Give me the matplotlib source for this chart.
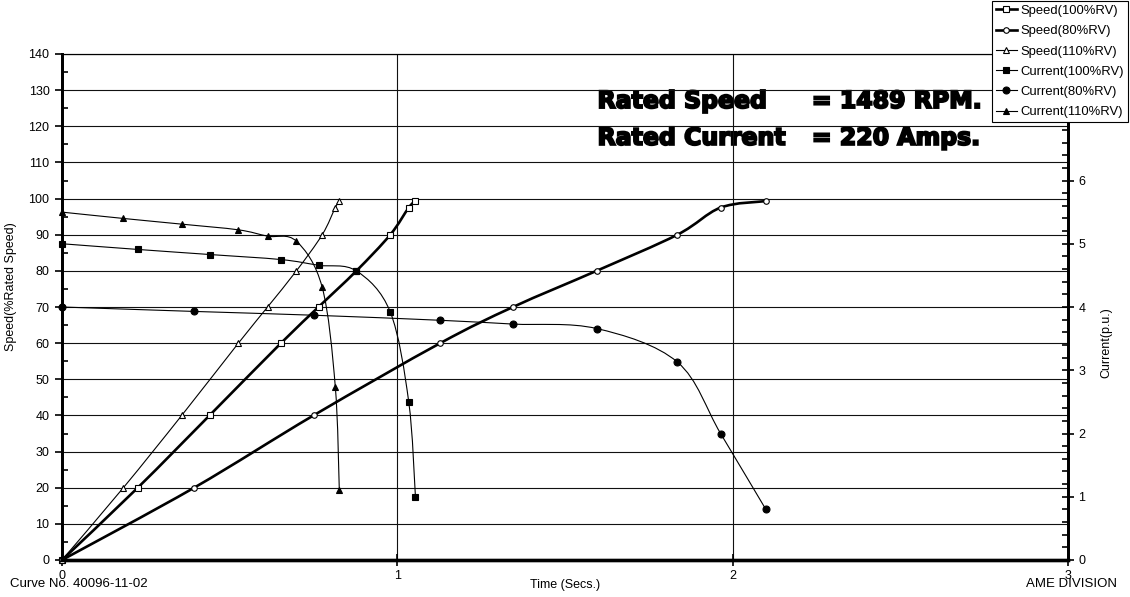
import matplotlib
matplotlib.use('Agg')
import matplotlib.pyplot as plt
import matplotlib.patheffects as pe
from matplotlib.path import Path
from matplotlib.patches import PathPatch
from matplotlib.lines import Line2D
from matplotlib.ticker import MultipleLocator
import numpy as np

plt.rcParams['font.family'] = ['Liberation Sans', 'DejaVu Sans']

# time (s) of each sample for the three voltage cases
time_100 = [0, 0.226, 0.440, 0.653, 0.765, 0.878, 0.979, 1.034, 1.054]
time_80 = [0, 0.394, 0.750, 1.128, 1.345, 1.594, 1.835, 1.964, 2.099]
time_110 = [0, 0.183, 0.357, 0.526, 0.613, 0.699, 0.776, 0.815, 0.827]

# speed in % of rated speed
speed_100 = [0, 20, 40, 60, 70, 80, 90, 97.5, 99.3]
speed_80 = [0, 20, 40, 60, 70, 80, 90, 97.5, 99.3]
speed_110 = [0, 20, 40, 60, 70, 80, 90, 97.5, 99.3]

# current in p.u.
current_100 = [5.00, 4.91, 4.83, 4.75, 4.66, 4.57, 3.92, 2.50, 1.00]
current_80 = [4.00, 3.93, 3.87, 3.79, 3.73, 3.66, 3.13, 2.00, 0.80]
current_110 = [5.50, 5.40, 5.31, 5.22, 5.12, 5.04, 4.31, 2.74, 1.10]

x_ticks = [0, 1, 2, 3]
speed_ticks = list(range(0, 141, 10))
current_ticks = list(range(0, 9))
# 7 and 8 sit under the legend box
current_labels = ['0', '1', '2', '3', '4', '5', '6', '', '']


def smooth_path(x, y):
    # excel style smoothed line: catmull-rom segments as cubic beziers
    pts = np.column_stack([x, y]).astype(float)
    n = len(pts)
    verts = [pts[0]]
    codes = [Path.MOVETO]
    for i in range(n - 1):
        p0 = pts[max(i - 1, 0)]
        p1 = pts[i]
        p2 = pts[i + 1]
        p3 = pts[min(i + 2, n - 1)]
        verts += [p1 + (p2 - p0) / 6, p2 - (p3 - p1) / 6, p2]
        codes += [Path.CURVE4] * 3
    return Path(verts, codes)


def draw_series(ax, x, y, lw, marker, ms, filled):
    ax.add_patch(PathPatch(smooth_path(x, y), fill=False, edgecolor='black',
                           lw=lw, zorder=2, capstyle='round', joinstyle='round'))
    ax.plot(x, y, ls='none', marker=marker, ms=ms, mec='black',
            mfc='black' if filled else 'white', mew=0.8, zorder=3, clip_on=False)


fig = plt.figure(figsize=(11.3, 5.97), dpi=100)
ax = fig.add_axes([62 / 1130, 37 / 597, 1006 / 1130, 506 / 597])
ax2 = ax.twinx()

ax.set_xlim(0, 3)
ax.set_ylim(0, 140)
ax2.set_ylim(0, 8)

ax.set_axisbelow(True)
ax.set_xticks(x_ticks)
ax.set_yticks(speed_ticks)
ax.yaxis.set_minor_locator(MultipleLocator(5))
ax2.set_yticks(current_ticks, current_labels)
ax2.yaxis.set_minor_locator(MultipleLocator(0.2))
ax.grid(True, which='major', color='#111111', lw=0.8)

for s in ['left', 'right']:
    ax.spines[s].set_linewidth(2)
    ax2.spines[s].set_linewidth(2)
ax.spines['bottom'].set_linewidth(2.4)
ax2.spines['bottom'].set_linewidth(2.4)
ax.spines['top'].set_linewidth(0.8)
ax2.spines['top'].set_linewidth(0.8)

ax.tick_params(axis='y', which='major', direction='out', length=5, width=1.2, pad=4, labelsize=9)
ax.tick_params(axis='y', which='minor', direction='in', length=4, width=1.2)
ax.tick_params(axis='x', which='major', direction='inout', length=8, width=1.2, pad=3, labelsize=9)
ax2.tick_params(axis='y', which='major', direction='inout', length=9, width=1.2, pad=3, labelsize=9)
ax2.tick_params(axis='y', which='minor', direction='in', length=4, width=1.2)

ax.set_ylabel('Speed(%Rated Speed)', fontsize=9)
ax.yaxis.set_label_coords(-0.045, 0.54)
ax2.set_ylabel('Current(p.u.)', fontsize=9)
ax2.yaxis.set_label_coords(1.032, 0.43)
ax.set_xlabel('Time (Secs.)', fontsize=9)
ax.xaxis.set_label_coords(0.5, -0.037)

draw_series(ax, time_100, speed_100, 1.9, 's', 5, False)
draw_series(ax, time_80, speed_80, 1.9, 'o', 4, False)
draw_series(ax, time_110, speed_110, 0.8, '^', 5, False)
draw_series(ax2, time_100, current_100, 0.8, 's', 5, True)
draw_series(ax2, time_80, current_80, 0.8, 'o', 5, True)
draw_series(ax2, time_110, current_110, 0.8, '^', 5, True)

# rating text sits under the grid lines, drawn heavy like Arial Black
heavy = [pe.PathPatchEffect(edgecolor='black', facecolor='black', linewidth=1.4)]
txt = dict(fontsize=17, fontweight='bold', family='DejaVu Sans', va='center', zorder=0.3,
           path_effects=heavy)
ax.text(1.597, 127, 'Rated Speed', **txt)
ax.text(2.236, 127, '= 1489 RPM.', **txt)
ax.text(1.597, 116.8, 'Rated Current', **txt)
ax.text(2.236, 116.8, '= 220 Amps.', **txt)

fig.text(10 / 1130, 1 - 584 / 597, 'Curve No. 40096-11-02', fontsize=9.5, va='center')
fig.text(1071 / 1130, 1 - 584 / 597, 'AME DIVISION', fontsize=9.5, va='center', ha='center')

labels = ['Speed(100%RV)', 'Speed(80%RV)', 'Speed(110%RV)',
          'Current(100%RV)', 'Current(80%RV)', 'Current(110%RV)']
handles = [
    Line2D([], [], color='black', lw=1.9, marker='s', ms=5, mfc='white', mew=0.8),
    Line2D([], [], color='black', lw=1.9, marker='o', ms=4, mfc='white', mew=0.8),
    Line2D([], [], color='black', lw=0.8, marker='^', ms=5, mfc='white', mew=0.8),
    Line2D([], [], color='black', lw=0.8, marker='s', ms=5, mfc='black', mew=0.8),
    Line2D([], [], color='black', lw=0.8, marker='o', ms=5, mfc='black', mew=0.8),
    Line2D([], [], color='black', lw=0.8, marker='^', ms=5, mfc='black', mew=0.8),
]
leg = fig.legend(handles, labels, loc='upper left', bbox_to_anchor=(992 / 1130, 1 - 1 / 597),
                 fontsize=9.4, frameon=True, fancybox=False, framealpha=1, edgecolor='black',
                 borderpad=0.3, labelspacing=0.62, handlelength=1.6, handletextpad=0.3,
                 borderaxespad=0)
leg.get_frame().set_linewidth(0.8)

fig.savefig('out.png', dpi=100)
